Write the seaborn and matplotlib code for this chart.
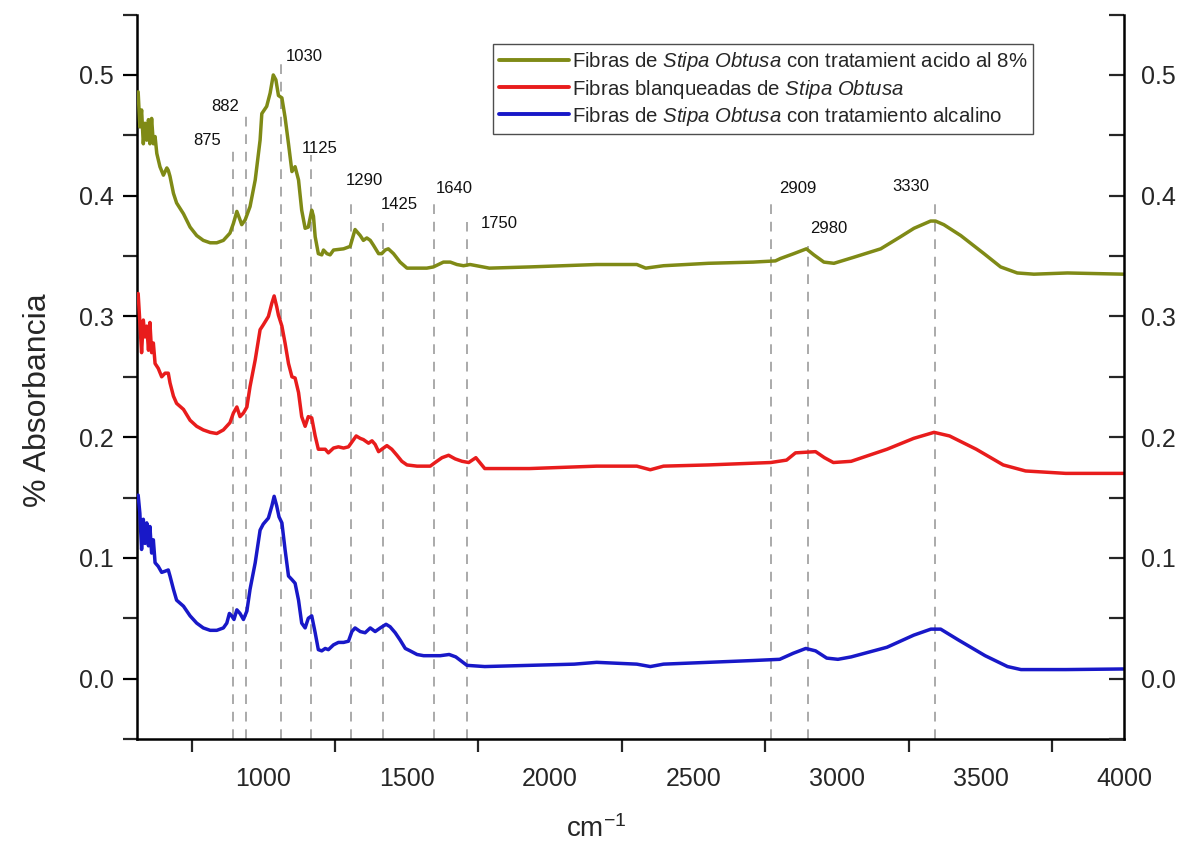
import numpy as np
import pandas as pd
import matplotlib
matplotlib.use("Agg")
import matplotlib.pyplot as plt
from matplotlib.ticker import MultipleLocator
from matplotlib.lines import Line2D
import seaborn as sns

# ---------------- data ----------------
acid_x = [564, 570, 576, 582, 588, 594, 600, 605, 611, 617, 623, 629, 640, 652, 664, 669, 675, 687, 698,
          722, 745, 768, 791, 815, 838, 861, 884, 896, 908, 919, 925, 937, 954, 972, 989, 995, 1012, 1024,
          1035, 1044, 1053, 1065, 1076, 1088, 1100, 1111, 1123, 1134, 1146, 1157, 1169, 1175, 1181, 1192,
          1204, 1210, 1222, 1233, 1245, 1280, 1303, 1320, 1338, 1349, 1361, 1373, 1384, 1402, 1413, 1425,
          1436, 1454, 1477, 1501, 1536, 1570, 1593, 1628, 1652, 1675, 1698, 1721, 1788, 1928, 2162, 2302,
          2333, 2395, 2551, 2707, 2785, 2803, 2849, 2893, 2919, 2954, 2989, 3058, 3152, 3221, 3268, 3326,
          3343, 3372, 3431, 3512, 3570, 3628, 3686, 3803, 3998]
acid_y = [0.486, 0.457, 0.471, 0.443, 0.460, 0.446, 0.463, 0.443, 0.464, 0.443, 0.449, 0.435, 0.424,
          0.417, 0.423, 0.421, 0.416, 0.402, 0.394, 0.385, 0.374, 0.367, 0.363, 0.361, 0.361, 0.363, 0.369,
          0.377, 0.387, 0.380, 0.376, 0.380, 0.391, 0.413, 0.446, 0.468, 0.474, 0.485, 0.500, 0.496, 0.483,
          0.481, 0.465, 0.443, 0.420, 0.424, 0.413, 0.388, 0.373, 0.374, 0.388, 0.383, 0.366, 0.352, 0.351,
          0.355, 0.352, 0.351, 0.355, 0.356, 0.358, 0.372, 0.367, 0.363, 0.365, 0.363, 0.359, 0.352, 0.352,
          0.355, 0.356, 0.352, 0.345, 0.340, 0.340, 0.340, 0.341, 0.345, 0.345, 0.343, 0.342, 0.343, 0.340,
          0.341, 0.343, 0.343, 0.340, 0.342, 0.344, 0.345, 0.346, 0.348, 0.352, 0.356, 0.351, 0.345, 0.344,
          0.349, 0.356, 0.366, 0.373, 0.379, 0.379, 0.376, 0.367, 0.352, 0.341, 0.336, 0.335, 0.336, 0.335]

bleach_x = [564, 570, 576, 582, 588, 594, 600, 605, 611, 617, 623, 634, 646, 658, 669, 675, 687, 698, 722,
            745, 768, 791, 815, 838, 861, 884, 896, 908, 919, 931, 943, 954, 972, 989, 1000, 1018, 1030,
            1038, 1047, 1053, 1065, 1076, 1088, 1100, 1111, 1123, 1134, 1146, 1157, 1169, 1181, 1192, 1204,
            1216, 1227, 1245, 1262, 1280, 1297, 1309, 1324, 1338, 1349, 1367, 1379, 1390, 1402, 1419, 1431,
            1448, 1466, 1483, 1501, 1536, 1582, 1599, 1623, 1646, 1669, 1693, 1716, 1741, 1772, 1928, 2162,
            2302, 2349, 2395, 2551, 2769, 2824, 2855, 2925, 2956, 2987, 3049, 3174, 3267, 3338, 3392, 3485,
            3579, 3657, 3797, 3998]
bleach_y = [0.319, 0.295, 0.270, 0.297, 0.283, 0.292, 0.272, 0.295, 0.270, 0.278, 0.261, 0.257, 0.250,
            0.253, 0.253, 0.245, 0.234, 0.228, 0.223, 0.214, 0.209, 0.206, 0.204, 0.203, 0.206, 0.212, 0.220,
            0.225, 0.217, 0.220, 0.225, 0.242, 0.264, 0.289, 0.293, 0.300, 0.311, 0.317, 0.308, 0.301, 0.292,
            0.278, 0.261, 0.250, 0.249, 0.237, 0.217, 0.209, 0.217, 0.216, 0.201, 0.190, 0.190, 0.190, 0.187,
            0.191, 0.192, 0.191, 0.192, 0.196, 0.201, 0.199, 0.198, 0.195, 0.197, 0.194, 0.188, 0.191, 0.193,
            0.190, 0.185, 0.180, 0.177, 0.176, 0.176, 0.179, 0.183, 0.185, 0.182, 0.180, 0.179, 0.183, 0.174,
            0.174, 0.176, 0.176, 0.173, 0.176, 0.177, 0.179, 0.181, 0.187, 0.188, 0.183, 0.179, 0.180, 0.190,
            0.199, 0.204, 0.201, 0.190, 0.177, 0.172, 0.170, 0.170]

alk_x = [564, 570, 576, 582, 588, 594, 600, 605, 611, 617, 623, 634, 646, 658, 669, 675, 687, 698, 722,
         745, 768, 791, 815, 838, 861, 873, 882, 890, 898, 908, 919, 931, 943, 954, 972, 989, 1000, 1018,
         1030, 1038, 1047, 1055, 1065, 1076, 1088, 1100, 1111, 1123, 1134, 1146, 1157, 1169, 1181, 1192,
         1204, 1216, 1227, 1245, 1262, 1280, 1297, 1309, 1320, 1338, 1355, 1373, 1390, 1408, 1428, 1442,
         1460, 1477, 1495, 1512, 1536, 1559, 1582, 1617, 1648, 1671, 1710, 1772, 1928, 2084, 2162, 2302,
         2349, 2395, 2551, 2707, 2800, 2847, 2891, 2925, 2964, 3003, 3049, 3174, 3267, 3327, 3361, 3423,
         3516, 3594, 3641, 3797, 3998]
alk_y = [0.152, 0.137, 0.107, 0.132, 0.112, 0.129, 0.110, 0.126, 0.104, 0.115, 0.096, 0.093, 0.088, 0.089,
         0.090, 0.085, 0.074, 0.065, 0.060, 0.052, 0.046, 0.042, 0.040, 0.040, 0.042, 0.046, 0.054, 0.052,
         0.049, 0.057, 0.054, 0.049, 0.056, 0.074, 0.096, 0.123, 0.128, 0.133, 0.143, 0.151, 0.143, 0.134,
         0.129, 0.107, 0.085, 0.082, 0.079, 0.065, 0.046, 0.042, 0.050, 0.052, 0.038, 0.024, 0.023, 0.025,
         0.024, 0.028, 0.030, 0.030, 0.031, 0.039, 0.042, 0.039, 0.038, 0.042, 0.039, 0.042, 0.045, 0.043,
         0.038, 0.032, 0.025, 0.023, 0.020, 0.019, 0.019, 0.019, 0.020, 0.018, 0.011, 0.010, 0.011, 0.012,
         0.0135, 0.012, 0.010, 0.012, 0.0135, 0.015, 0.016, 0.021, 0.025, 0.023, 0.017, 0.016, 0.018, 0.026,
         0.036, 0.041, 0.041, 0.032, 0.019, 0.010, 0.0075, 0.0075, 0.008]

series_labels = [
    r"Fibras de $\mathit{Stipa\ Obtusa}$ con tratamient acido al 8%",
    r"Fibras blanqueadas de $\mathit{Stipa\ Obtusa}$",
    r"Fibras de $\mathit{Stipa\ Obtusa}$ con tratamiento alcalino",
]
series_colors = ["#7f8a16", "#e81c1c", "#1818c8"]

# dashed marker lines: position and top height
mark_x = [896, 940, 1063, 1166, 1307, 1417, 1595, 1711, 2769, 2897, 3340]
mark_top = [0.438, 0.471, 0.511, 0.434, 0.397, 0.377, 0.398, 0.378, 0.397, 0.358, 0.397]

# peak annotation labels
ann_text = ["875", "882", "1030", "1125", "1290", "1425", "1640", "1750", "2909", "2980", "3330"]
ann_x = [804, 867, 1142, 1195, 1352, 1474, 1666, 1823, 2862, 2970, 3256]
ann_y = [0.446, 0.474, 0.515, 0.439, 0.413, 0.393, 0.406, 0.377, 0.406, 0.373, 0.408]

# ---------------- styling ----------------
sns.set_theme(style="white")
plt.rcParams["font.family"] = ["Liberation Sans", "DejaVu Sans"]
plt.rcParams["mathtext.fontset"] = "custom"
plt.rcParams["mathtext.rm"] = "Liberation Sans"
plt.rcParams["mathtext.it"] = "Liberation Sans:italic"

fig = plt.figure(figsize=(11.84, 8.48), dpi=100)
ax = fig.add_axes([137 / 1184, (848 - 739) / 848, (1124 - 137) / 1184, (739 - 14.6) / 848])

dfs = [
    pd.DataFrame({"x": acid_x, "y": acid_y}),
    pd.DataFrame({"x": bleach_x, "y": bleach_y}),
    pd.DataFrame({"x": alk_x, "y": alk_y}),
]

for xm, tp in zip(mark_x, mark_top):
    ax.plot([xm, xm], [-0.05, tp], color="#aaaaaa", lw=1.4, ls=(0, (5, 4)), zorder=1)

for df, lab, col in zip(dfs, series_labels, series_colors):
    sns.lineplot(data=df, x="x", y="y", ax=ax, color=col, lw=2.5, label=lab,
                 estimator=None, sort=False, zorder=3)

for t, xx, yy in zip(ann_text, ann_x, ann_y):
    ax.text(xx, yy, t, fontsize=12, ha="center", va="center", color="#111111")

ax.set_xlim(560, 4000)
ax.set_ylim(-0.05, 0.55)

ax.xaxis.set_major_locator(MultipleLocator(500))
ax.xaxis.set_minor_locator(MultipleLocator(250))
ax.yaxis.set_major_locator(MultipleLocator(0.1))
ax.yaxis.set_minor_locator(MultipleLocator(0.05))
ax.yaxis.set_major_formatter(matplotlib.ticker.FormatStrFormatter("%.1f"))

ax.tick_params(axis="both", which="major", direction="out", labelsize=18, width=1.6, color="black")
ax.tick_params(axis="y", which="major", length=10, pad=7)
ax.tick_params(axis="y", which="minor", direction="out", length=10, width=1.6, left=True)
ax.tick_params(axis="x", which="major", length=14, pad=6)
ax.tick_params(axis="x", which="minor", direction="out", length=9, width=1.6, bottom=True)

for s in ["top", "right"]:
    ax.spines[s].set_visible(False)
for s in ["left", "bottom"]:
    ax.spines[s].set_linewidth(1.8)
    ax.spines[s].set_color("black")

ax2 = ax.twinx()
ax2.set_ylim(ax.get_ylim())
ax2.yaxis.set_major_locator(MultipleLocator(0.1))
ax2.yaxis.set_minor_locator(MultipleLocator(0.05))
ax2.yaxis.set_major_formatter(matplotlib.ticker.FormatStrFormatter("%.1f"))
ax2.tick_params(axis="y", which="major", direction="in", length=11, width=1.6, labelsize=18, pad=12)
ax2.tick_params(axis="y", which="minor", direction="in", length=11, width=1.6, right=True)
for s in ["top", "left", "bottom"]:
    ax2.spines[s].set_visible(False)
ax2.spines["right"].set_linewidth(1.8)
ax2.spines["right"].set_color("black")
ax2.grid(False)

ax.set_xlabel("cm$^{-1}$", fontsize=20)
ax.xaxis.set_label_coords(0.465, -0.105)
ax.set_ylabel("% Absorbancia", fontsize=23)
ax.yaxis.set_label_coords(-0.085, 0.468)

handles = [Line2D([], [], color=c, lw=2.8) for c in series_colors]
ax.get_legend().remove()
leg = ax2.legend(handles, series_labels, loc="upper right", bbox_to_anchor=(0.908, 0.959),
                 borderaxespad=0, fontsize=14.7, frameon=True, fancybox=False,
                 handlelength=3.4, handletextpad=0.15, labelspacing=0.2, borderpad=0.3)
leg.get_frame().set_edgecolor("#222222")
leg.get_frame().set_linewidth(1.0)

fig.savefig("out.png", dpi=100, facecolor="white")
